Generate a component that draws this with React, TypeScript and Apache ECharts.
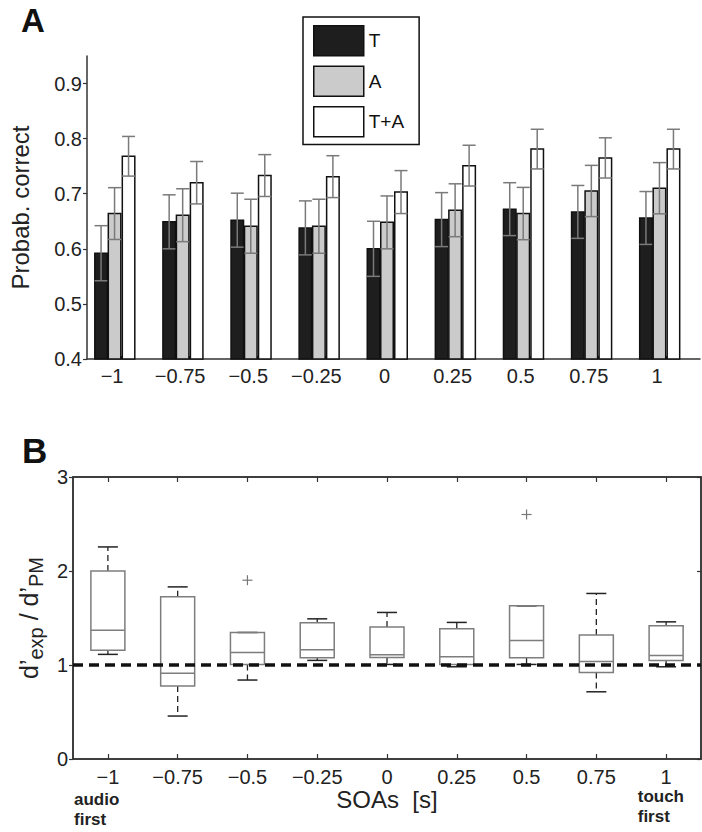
import React, { useEffect, useRef } from "react";
import * as echarts from "echarts";

// SOA categories (seconds) and their tick labels
const soas = [-1, -0.75, -0.5, -0.25, 0, 0.25, 0.5, 0.75, 1];
const soaLabels = ["−1", "−0.75", "−0.5", "−0.25", "0", "0.25", "0.5", "0.75", "1"];

// Panel A: probability correct (mean) and error (half bar) per condition
const probT = [0.592, 0.649, 0.652, 0.638, 0.6, 0.653, 0.672, 0.667, 0.656];
const errT = [0.05, 0.049, 0.049, 0.049, 0.05, 0.049, 0.048, 0.048, 0.048];
const probA = [0.664, 0.661, 0.641, 0.641, 0.648, 0.67, 0.664, 0.705, 0.71];
const errA = [0.047, 0.048, 0.049, 0.049, 0.048, 0.048, 0.0475, 0.0465, 0.0465];
const probTA = [0.768, 0.72, 0.733, 0.731, 0.703, 0.751, 0.781, 0.765, 0.781];
const errTA = [0.036, 0.0385, 0.038, 0.038, 0.039, 0.037, 0.036, 0.0365, 0.036];
const yTicksA = [0.4, 0.5, 0.6, 0.7, 0.8, 0.9];

// Panel B: boxplot statistics of d'exp / d'PM
const whiskerLow = [1.113, 0.457, 0.84, 1.049, 1.006, 0.981, 1.006, 0.715, 0.981];
const q1 = [1.158, 0.776, 1.006, 1.077, 1.081, 1.006, 1.077, 0.921, 1.049];
const median = [1.371, 0.911, 1.134, 1.162, 1.109, 1.088, 1.261, 1.038, 1.102];
const q3 = [2.0, 1.725, 1.346, 1.449, 1.403, 1.385, 1.629, 1.318, 1.417];
const whiskerHigh = [2.256, 1.831, 1.346, 1.491, 1.559, 1.453, 1.629, 1.761, 1.459];
const outlierSoa = [-0.5, 0.5];
const outlierVal = [1.902, 2.601];
const refLine = 1;

const FONT = "'Liberation Sans', Arial, Helvetica, sans-serif";
const TXT = "#222";
const AX = "#333";

function labelFor(v: number) {
  let best = 0;
  for (let i = 0; i < soas.length; i++) {
    if (Math.abs(soas[i] - v) < Math.abs(soas[best] - v)) best = i;
  }
  return soaLabels[best];
}

function barSeries(name: string, vals: number[], errs: number[], offset: number, fill: string) {
  return {
    type: "custom",
    name,
    xAxisIndex: 0,
    yAxisIndex: 0,
    itemStyle: { color: fill, borderColor: "#111", borderWidth: 1.5 },
    data: soas.map((s, i) => [s, vals[i], errs[i]]),
    renderItem: (params: any, api: any) => {
      const x = api.value(0);
      const v = api.value(1);
      const e = api.value(2);
      const base = api.coord([x, 0.4]);
      const top = api.coord([x, v]);
      const eHi = api.coord([x, v + e]);
      const eLo = api.coord([x, v - e]);
      const w = 12.5;
      const cx = base[0] + offset;
      const errStyle = { stroke: "#7a7a7a", lineWidth: 1.5 };
      return {
        type: "group",
        children: [
          {
            type: "rect",
            shape: { x: cx - w / 2, y: top[1], width: w, height: base[1] - top[1] },
            style: { fill, stroke: "#111", lineWidth: 1.5 },
          },
          { type: "line", shape: { x1: cx, y1: eLo[1], x2: cx, y2: eHi[1] }, style: errStyle },
          { type: "line", shape: { x1: cx - 6.5, y1: eHi[1], x2: cx + 6.5, y2: eHi[1] }, style: errStyle },
          { type: "line", shape: { x1: cx - 6.5, y1: eLo[1], x2: cx + 6.5, y2: eLo[1] }, style: errStyle },
        ],
      };
    },
  };
}

export default function App() {
  const ref = useRef<HTMLDivElement>(null);
  useEffect(() => {
    if (!ref.current) return;
    const chart = echarts.init(ref.current, null, { renderer: "svg" });
    const axLine = { show: true, onZero: false, lineStyle: { color: AX, width: 1.5 } };
    const option: any = {
      animation: false,
      backgroundColor: "#fff",
      textStyle: { fontFamily: FONT },
      grid: [
        { left: 73, width: 627, top: 56, height: 303 },
        { left: 73, width: 628, top: 477, height: 282, show: true, borderColor: AX, borderWidth: 1.5, backgroundColor: "transparent" },
      ],
      legend: {
        left: 303,
        top: 17,
        orient: "vertical",
        selectedMode: false,
        backgroundColor: "#fff",
        borderColor: "#111",
        borderWidth: 1.5,
        borderRadius: 0,
        padding: [8, 15, 7, 10],
        itemWidth: 50,
        itemHeight: 30,
        itemGap: 9,
        textStyle: { fontSize: 19, color: "#111", fontFamily: FONT },
        data: [
          { name: "T", icon: "rect", itemStyle: { color: "#1e1e1e", borderColor: "#111", borderWidth: 1.5 } },
          { name: "A", icon: "rect", itemStyle: { color: "#cbcbcb", borderColor: "#111", borderWidth: 1.5 } },
          { name: "T+A", icon: "rect", itemStyle: { color: "#ffffff", borderColor: "#111", borderWidth: 1.5 } },
        ],
      },
      xAxis: [
        {
          gridIndex: 0,
          type: "value",
          min: -1.125,
          max: 1.125,
          splitLine: { show: false },
          axisLine: axLine,
          axisTick: { show: true, inside: true, length: 3, customValues: soas, lineStyle: { color: "#111", width: 2.5 } },
          axisLabel: {
            customValues: soas,
            formatter: (v: number) => labelFor(v),
            fontSize: 20,
            color: TXT,
            margin: 7,
            padding: [0, 18, 0, 0],
            fontFamily: FONT,
          },
        },
        {
          gridIndex: 1,
          type: "value",
          min: -1.125,
          max: 1.125,
          splitLine: { show: false },
          axisLine: axLine,
          axisTick: { show: true, inside: true, length: 5, customValues: soas, lineStyle: { color: AX, width: 1.2 } },
          axisLabel: {
            customValues: soas,
            formatter: (v: number) => labelFor(v),
            fontSize: 20,
            lineHeight: 14,
            color: TXT,
            margin: 11,
            fontFamily: FONT,
          },
          name: "SOAs  [s]",
          nameLocation: "middle",
          nameGap: 26,
          nameTextStyle: { fontSize: 24, color: TXT, fontFamily: FONT },
        },
        {
          gridIndex: 1,
          type: "value",
          position: "top",
          min: -1.125,
          max: 1.125,
          splitLine: { show: false },
          axisLine: axLine,
          axisTick: { show: true, inside: true, length: 5, customValues: soas, lineStyle: { color: AX, width: 1.2 } },
          axisLabel: { show: false },
        },
      ],
      yAxis: [
        {
          gridIndex: 0,
          type: "value",
          min: 0.4,
          max: 0.95,
          splitLine: { show: false },
          axisLine: axLine,
          axisTick: { show: true, inside: false, length: 4, customValues: yTicksA, lineStyle: { color: AX, width: 1.2 } },
          axisLabel: {
            customValues: yTicksA,
            formatter: (v: number) => v.toFixed(1),
            fontSize: 20,
            color: TXT,
            margin: 5,
            fontFamily: FONT,
          },
          name: "Probab. correct",
          nameLocation: "middle",
          nameGap: 55,
          nameTextStyle: { fontSize: 24, color: TXT, fontFamily: FONT },
        },
        {
          gridIndex: 1,
          type: "value",
          min: 0,
          max: 3,
          interval: 1,
          splitLine: { show: false },
          axisLine: axLine,
          axisTick: { show: true, inside: false, length: 4, lineStyle: { color: AX, width: 1.2 } },
          axisLabel: { fontSize: 20, color: TXT, margin: 5, fontFamily: FONT },
          name: "{m|d’}{s|exp}{m| / d’}{s|PM}",
          nameLocation: "middle",
          nameGap: 24,
          nameTextStyle: {
            fontSize: 24,
            color: TXT,
            fontFamily: FONT,
            rich: {
              m: { fontSize: 25, color: TXT, fontFamily: FONT, lineHeight: 30 },
              s: { fontSize: 20, color: TXT, fontFamily: FONT, lineHeight: 30, padding: [14, 0, 0, 0] },
            },
          },
        },
        {
          gridIndex: 1,
          type: "value",
          position: "right",
          min: 0,
          max: 3,
          interval: 1,
          splitLine: { show: false },
          axisLine: axLine,
          axisTick: { show: true, inside: true, length: 4, lineStyle: { color: AX, width: 1.2 } },
          axisLabel: { show: false },
        },
      ],
      graphic: [
        { type: "text", left: 21, top: 4, style: { text: "A", font: `bold 33px ${FONT}`, fill: "#111" } },
        { type: "text", left: 22, top: 433, style: { text: "B", font: `bold 35px ${FONT}`, fill: "#111" } },
        {
          type: "text",
          left: 74,
          top: 789,
          style: { text: "audio\nfirst", font: `bold 17px ${FONT}`, fill: "#222", lineHeight: 20 },
        },
        {
          type: "text",
          right: 702 - 684,
          top: 786,
          style: { text: "touch\nfirst", font: `bold 17px ${FONT}`, fill: "#222", lineHeight: 20, align: "right" },
        },
      ],
      series: [
        barSeries("T", probT, errT, -20, "#1e1e1e"),
        barSeries("A", probA, errA, -6.5, "#cbcbcb"),
        barSeries("T+A", probTA, errTA, 7.5, "#ffffff"),
        {
          type: "custom",
          name: "box",
          xAxisIndex: 1,
          yAxisIndex: 1,
          data: soas.map((s, i) => [s, whiskerLow[i], q1[i], median[i], q3[i], whiskerHigh[i]]),
          renderItem: (params: any, api: any) => {
            const x = api.value(0);
            const pLo = api.coord([x, api.value(1)]);
            const pQ1 = api.coord([x, api.value(2)]);
            const pMed = api.coord([x, api.value(3)]);
            const pQ3 = api.coord([x, api.value(4)]);
            const pHi = api.coord([x, api.value(5)]);
            const cx = pLo[0];
            const hw = 17;
            const cw = 10;
            const boxStyle = { stroke: "#7d7d7d", lineWidth: 1.5, fill: "none" };
            const whStyle = { stroke: "#222", lineWidth: 1.3, lineDash: [6, 4] };
            const capStyle = { stroke: "#222", lineWidth: 1.5 };
            return {
              type: "group",
              children: [
                { type: "line", shape: { x1: cx, y1: pQ3[1], x2: cx, y2: pHi[1] }, style: whStyle },
                { type: "line", shape: { x1: cx, y1: pQ1[1], x2: cx, y2: pLo[1] }, style: whStyle },
                { type: "line", shape: { x1: cx - cw, y1: pHi[1], x2: cx + cw, y2: pHi[1] }, style: capStyle },
                { type: "line", shape: { x1: cx - cw, y1: pLo[1], x2: cx + cw, y2: pLo[1] }, style: capStyle },
                { type: "rect", shape: { x: cx - hw, y: pQ3[1], width: 2 * hw, height: pQ1[1] - pQ3[1] }, style: boxStyle },
                { type: "line", shape: { x1: cx - hw, y1: pMed[1], x2: cx + hw, y2: pMed[1] }, style: { stroke: "#7d7d7d", lineWidth: 1.5 } },
              ],
            };
          },
        },
        {
          type: "custom",
          name: "outliers",
          xAxisIndex: 1,
          yAxisIndex: 1,
          data: outlierSoa.map((s, i) => [s, outlierVal[i]]),
          renderItem: (params: any, api: any) => {
            const p = api.coord([api.value(0), api.value(1)]);
            const st = { stroke: "#777", lineWidth: 1.2 };
            return {
              type: "group",
              children: [
                { type: "line", shape: { x1: p[0] - 5, y1: p[1], x2: p[0] + 5, y2: p[1] }, style: st },
                { type: "line", shape: { x1: p[0], y1: p[1] - 5, x2: p[0], y2: p[1] + 5 }, style: st },
              ],
            };
          },
        },
        {
          type: "line",
          name: "ref",
          xAxisIndex: 1,
          yAxisIndex: 1,
          symbol: "none",
          silent: true,
          z: 5,
          lineStyle: { color: "#111", width: 3.5, type: [10, 6] },
          data: [[-1.125, refLine], [1.125, refLine]],
        },
      ],
    };
    chart.setOption(option);
    return () => chart.dispose();
  }, []);
  return (
    <div
      ref={ref}
      style={{ position: "fixed", left: 0, top: 0, width: 702, height: 832, background: "#fff" }}
    />
  );
}
